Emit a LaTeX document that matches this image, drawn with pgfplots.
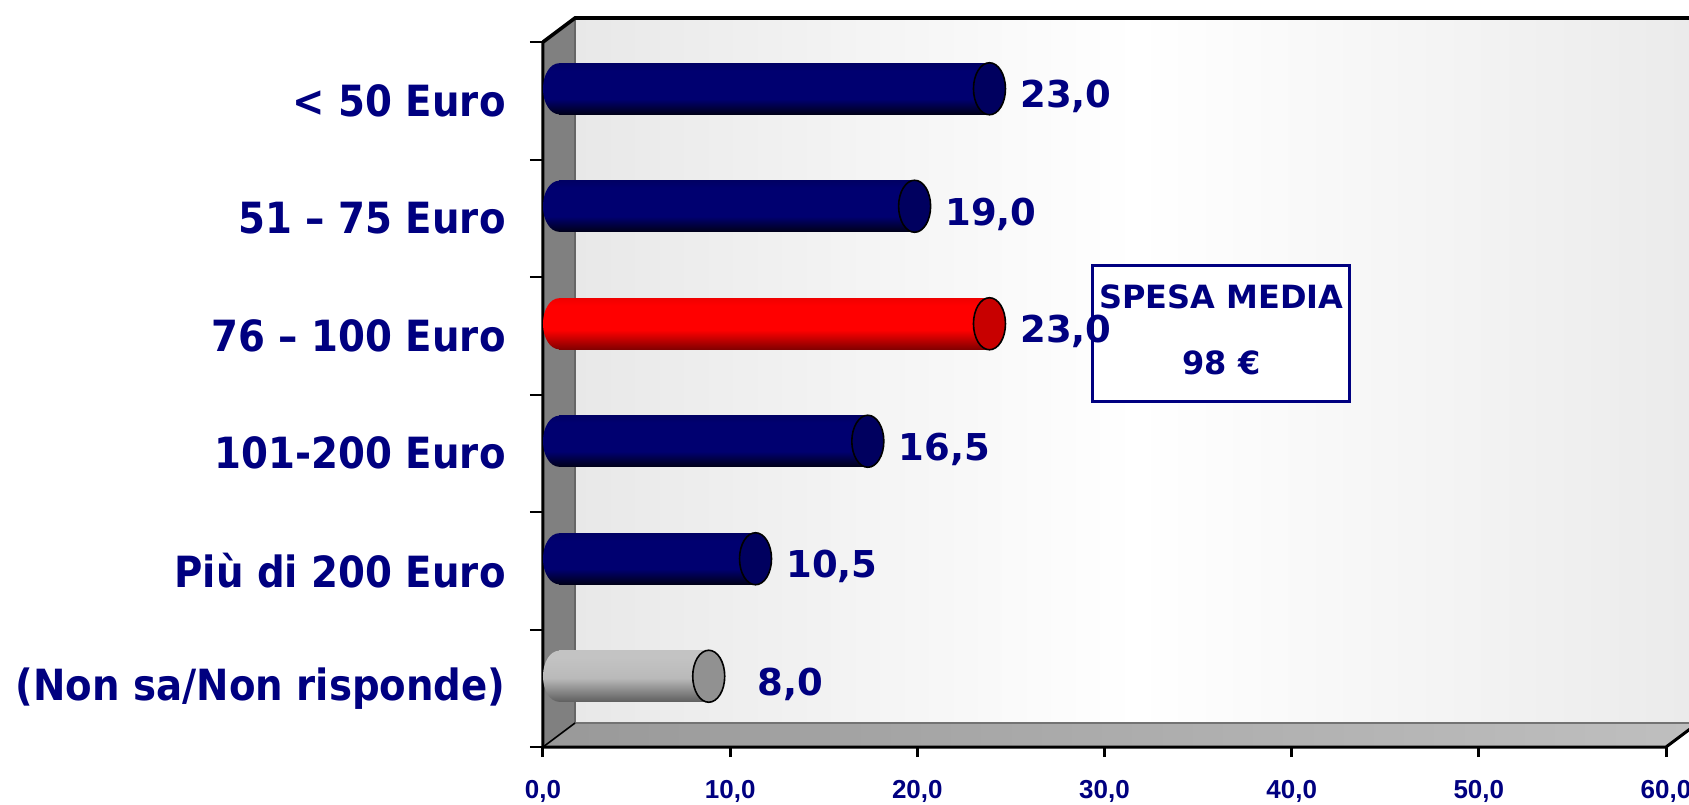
\documentclass[border=0pt]{standalone}
\usepackage{fontspec}
\setmainfont{DejaVu Sans}
\newfontfamily\lib{Liberation Sans}
\newfontfamily\catfont[FakeStretch=0.9]{DejaVu Sans}
\usepackage{pgfplots}
\pgfplotsset{compat=1.18}
\definecolor{navy}{RGB}{0,0,128}
\definecolor{navytop}{RGB}{0,0,100}
\definecolor{navymid}{RGB}{0,0,112}
\definecolor{navybot}{RGB}{0,0,25}
\definecolor{navycap}{RGB}{0,0,95}
\definecolor{redtop}{RGB}{240,0,0}
\definecolor{redmid}{RGB}{255,0,0}
\definecolor{redbot}{RGB}{130,0,0}
\definecolor{redcap}{RGB}{200,0,0}
\definecolor{graytop}{RGB}{195,195,195}
\definecolor{graymid}{RGB}{185,185,185}
\definecolor{graybot}{RGB}{95,95,95}
\definecolor{graycap}{RGB}{145,145,145}
\pgfdeclareverticalshading{navycyl}{100bp}{color(0bp)=(navybot); color(25bp)=(navybot); color(40bp)=(navymid); color(68bp)=(navymid); color(75bp)=(navytop); color(100bp)=(navytop)}
\pgfdeclareverticalshading{redcyl}{100bp}{color(0bp)=(redbot); color(25bp)=(redbot); color(44bp)=(redmid); color(68bp)=(redmid); color(75bp)=(redtop); color(100bp)=(redtop)}
\pgfdeclareverticalshading{graycyl}{100bp}{color(0bp)=(graybot); color(25bp)=(graybot); color(48bp)=(graymid); color(68bp)=(graytop); color(75bp)=(graytop); color(100bp)=(graytop)}
\pgfdeclareplotmark{cap}{\pgfpathellipse{\pgfpointorigin}{\pgfqpoint{8pt}{0pt}}{\pgfqpoint{0pt}{13pt}}\pgfusepathqfillstroke}
\pgfdeclareplotmark{lendnavy}{\shade[shading=navycyl, draw=none] (4pt,12.75pt) -- (0pt,12.75pt) arc[start angle=90, end angle=270, x radius=8pt, y radius=12.75pt] -- (4pt,-12.75pt) -- cycle;}
\pgfdeclareplotmark{lendred}{\shade[shading=redcyl, draw=none] (4pt,12.75pt) -- (0pt,12.75pt) arc[start angle=90, end angle=270, x radius=8pt, y radius=12.75pt] -- (4pt,-12.75pt) -- cycle;}
\pgfdeclareplotmark{lendgray}{\shade[shading=graycyl, draw=none] (4pt,12.75pt) -- (0pt,12.75pt) arc[start angle=90, end angle=270, x radius=8pt, y radius=12.75pt] -- (4pt,-12.75pt) -- cycle;}
\pgfplotsset{
  body/.style={xbar, bar width=25.5pt, bar shift=0pt, xshift=8pt, yshift=6pt, draw=none},
  navybody/.style={body, shade, shading=navycyl},
  redbody/.style={body, shade, shading=redcyl},
  graybody/.style={body, shade, shading=graycyl},
  lend/.style={only marks, mark=#1, xshift=8pt, yshift=6pt, draw=none, mark options={draw=none}},
  lbl/.style={nodes near coords, point meta=explicit symbolic,
    every node near coord/.append style={anchor=base west, xshift=#1, yshift=-9.5pt, font=\bfseries\fontsize{18.5}{18.5}\selectfont, text=navy, inner sep=0pt}},
}
\begin{document}
\begin{tikzpicture}
\useasboundingbox (-271.5pt,-28.5pt) rectangle (573pt,373.5pt);
\clip (-271.5pt,-28.5pt) rectangle (573pt,373.5pt);
\begin{axis}[
  scale only axis, width=561.5pt, height=352.5pt,
  xmin=0, xmax=60, ymin=0, ymax=6,
  clip=false,
  axis x line*=bottom, axis y line*=left,
  axis line style={draw=none},
  tick align=outside,
  xtick={0,10,20,30,40,50,60},
  xticklabels={{0,0},{10,0},{20,0},{30,0},{40,0},{50,0},{60,0}},
  xticklabel style={font=\lib\bfseries\fontsize{13}{13}\selectfont, text=navy, inner sep=0pt, anchor=north, yshift=-11.5pt},
  major tick length=5pt,
  major x tick style={black, line width=1.5pt},
  ytick={0.5,1.5,2.5,3.5,4.5,5.5},
  yticklabels={{(Non sa/Non risponde)},{Più di 200 Euro},{101-200 Euro},{76 – 100 Euro},{51 – 75 Euro},{< 50 Euro}},
  yticklabel style={font=\catfont\bfseries\fontsize{21.5}{21.5}\selectfont, text=navy, inner sep=0pt, anchor=east, xshift=-13.5pt},
  major y tick style={draw=none},
  minor ytick={0,1,2,3,4,5,6},
  minor tick length=6.5pt,
  minor y tick style={black, line width=1pt},
]
% back wall
\shade[left color=black!9, right color=black!8, middle color=white]
  ([shift={(16pt,12pt)}]rel axis cs:0,0) rectangle ([shift={(16pt,12pt)}]rel axis cs:1,1);
% floor
\shade[left color=black!40, right color=black!25, draw=none]
  (rel axis cs:0,0) -- (rel axis cs:1,0) -- ([shift={(16pt,12pt)}]rel axis cs:1,0) -- ([shift={(16pt,12pt)}]rel axis cs:0,0) -- cycle;
\draw[black!55, line width=1pt] ([shift={(16pt,12pt)}]rel axis cs:0,0) -- ([shift={(16pt,12pt)}]rel axis cs:1,0);
% left wall
\fill[black!50] (rel axis cs:0,0) -- (rel axis cs:0,1) -- ([shift={(16pt,12pt)}]rel axis cs:0,1) -- ([shift={(16pt,12pt)}]rel axis cs:0,0) -- cycle;
\draw[black!60, line width=0.6pt] ([shift={(16pt,12pt)}]rel axis cs:0,0) -- ([shift={(16pt,12pt)}]rel axis cs:0,1);
\draw[black, line width=0.8pt] (rel axis cs:0,0) -- ([shift={(16pt,12pt)}]rel axis cs:0,0);
% frame lines
\draw[black, line width=1.8pt] (rel axis cs:0,1) -- ([shift={(16pt,12pt)}]rel axis cs:0,1) -- ([shift={(16pt,12pt)}]rel axis cs:1,1);
\draw[black, line width=1.5pt] (rel axis cs:0,1) -- (rel axis cs:0,0) -- (rel axis cs:1,0) -- ([shift={(16pt,12pt)}]rel axis cs:1,0);

% bodies, one per bar
\addplot[navybody] coordinates {(23,5.5)};
\addplot[navybody] coordinates {(19,4.5)};
\addplot[redbody] coordinates {(23,3.5)};
\addplot[navybody] coordinates {(16.5,2.5)};
\addplot[navybody] coordinates {(10.5,1.5)};
\addplot[graybody] coordinates {(8,0.5)};
% rounded left ends of the cylinders
\addplot[lend=lendnavy] coordinates {(0,5.5) (0,4.5) (0,2.5) (0,1.5)};
\addplot[lend=lendred] coordinates {(0,3.5)};
\addplot[lend=lendgray] coordinates {(0,0.5)};

% box
\node[draw=navy, line width=1.5pt, fill=white, minimum width=128.5pt, minimum height=68pt, inner sep=0pt]
  at (axis cs:36.25,3.523) {};
\node[text=navy, font=\bfseries\fontsize{16}{16}\selectfont, inner sep=0pt] at (axis cs:36.25,3.83) {SPESA MEDIA};
\node[text=navy, font=\bfseries\fontsize{16}{16}\selectfont, inner sep=0pt] at (axis cs:36.25,3.268) {98 €};

% caps + value labels
\addplot[only marks, mark=cap, xshift=8pt, yshift=6pt, mark options={fill=navycap, draw=black, line width=0.8pt}, lbl=15pt]
  coordinates {(23,5.5)[23,0] (19,4.5)[19,0] (16.5,2.5)[16,5] (10.5,1.5)[10,5]};
\addplot[only marks, mark=cap, xshift=8pt, yshift=6pt, mark options={fill=redcap, draw=black, line width=0.8pt}, lbl=15pt]
  coordinates {(23,3.5)[23,0]};
\addplot[only marks, mark=cap, xshift=8pt, yshift=6pt, mark options={fill=graycap, draw=black, line width=0.8pt}, lbl=24pt]
  coordinates {(8,0.5)[8,0]};
\end{axis}
\end{tikzpicture}
\end{document}
